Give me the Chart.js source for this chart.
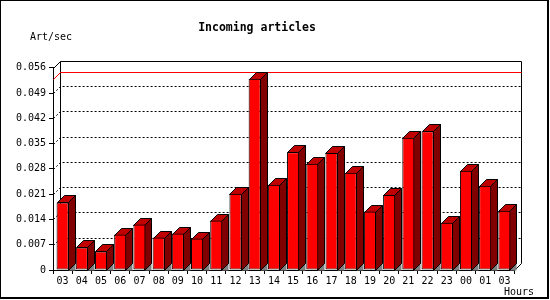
<!DOCTYPE html>
<html><head><meta charset="utf-8">
<style>html,body{margin:0;padding:0;background:#fff}canvas{display:block}</style>
<script src="https://cdn.jsdelivr.net/npm/chart.js@4"></script>
</head><body>
<canvas id="c" width="550" height="300"></canvas>
<script>
const hours = ['03','04','05','06','07','08','09','10','11','12','13','14','15','16','17','18','19','20','21','22','23','00','01','03'];
const artPerSec = [0.0187,0.00625,0.00515,0.0098,0.0126,0.0090,0.0101,0.0087,0.0137,0.0211,0.0530,0.0236,0.0326,0.0294,0.0324,0.0269,0.0162,0.0208,0.0366,0.0384,0.0131,0.0275,0.0233,0.0164];
const yTicks = [0,0.007,0.014,0.021,0.028,0.035,0.042,0.049,0.056];
const titleText = 'Incoming articles';
const yUnit = 'Art/sec';
const xUnit = 'Hours';

const DEPTH = 7;
const MONO = "'DejaVu Sans Mono', monospace";
Chart.defaults.font.family = MONO;
Chart.defaults.font.size = 10;
Chart.defaults.color = '#000';

const yMax = yTicks[yTicks.length - 1];

const threeD = {
  id: 'threeD',
  beforeDraw(chart) {
    const ctx = chart.ctx;
    ctx.save();
    ctx.fillStyle = '#fff';
    ctx.fillRect(0, 0, chart.width, chart.height);
    ctx.restore();
  },
  beforeDatasetsDraw(chart) {
    const {ctx, chartArea: a, scales: {y}} = chart;
    const d = DEPTH;
    const L = Math.round(a.left) + 0.5, R = Math.round(a.right) + 0.5;
    const T = Math.round(a.top) + 0.5, B = Math.round(a.bottom) + 0.5;
    ctx.save();
    ctx.lineWidth = 1;
    ctx.strokeStyle = '#000';
    // back wall frame
    ctx.beginPath();
    ctx.moveTo(L, T); ctx.lineTo(L + d, T - d); ctx.lineTo(R + d, T - d);
    ctx.lineTo(R + d, B - d); ctx.lineTo(R, B);
    ctx.moveTo(L + d, T - d); ctx.lineTo(L + d, B - d);
    ctx.stroke();
    // dotted grid on back wall
    ctx.setLineDash([2, 2]);
    yTicks.forEach(v => {
      if (v <= 0 || v >= yMax) return;
      const py = Math.round(y.getPixelForValue(v)) + 0.5;
      ctx.beginPath();
      ctx.moveTo(L, py); ctx.lineTo(L + d, py - d); ctx.lineTo(R + d, py - d);
      ctx.stroke();
    });
    ctx.setLineDash([]);
    // max line
    const maxV = Math.max(...artPerSec);
    const pm = Math.round(y.getPixelForValue(maxV)) + 0.5;
    ctx.strokeStyle = '#f00';
    ctx.beginPath();
    ctx.moveTo(L, pm); ctx.lineTo(L + d, pm - d); ctx.lineTo(R + d, pm - d);
    ctx.stroke();
    // 3D faces of bars
    ctx.strokeStyle = '#000';
    const meta = chart.getDatasetMeta(0);
    meta.data.forEach(bar => {
      const p = bar.getProps(['x', 'y', 'base', 'width'], true);
      const l = Math.round(p.x - p.width / 2) + 0.5;
      const r = Math.round(p.x + p.width / 2) - 0.5;
      const t = Math.round(p.y) + 0.5;
      const b = Math.round(p.base) + 0.5;
      ctx.fillStyle = '#808080';
      ctx.beginPath();
      ctx.moveTo(r, b); ctx.lineTo(r + d, b - d); ctx.lineTo(r + d, b); ctx.closePath();
      ctx.fill();
      ctx.fillStyle = '#800000';
      ctx.beginPath();
      ctx.moveTo(r, t); ctx.lineTo(r + d, t - d); ctx.lineTo(r + d, b - d); ctx.lineTo(r, b); ctx.closePath();
      ctx.fill(); ctx.stroke();
      ctx.fillStyle = '#c00000';
      ctx.beginPath();
      ctx.moveTo(l, t); ctx.lineTo(l + d, t - d); ctx.lineTo(r + d, t - d); ctx.lineTo(r, t); ctx.closePath();
      ctx.fill(); ctx.stroke();
    });
    ctx.restore();
  },
  afterDraw(chart) {
    const ctx = chart.ctx;
    ctx.save();
    ctx.fillStyle = '#000';
    ctx.font = '10px ' + MONO;
    ctx.textBaseline = 'middle';
    ctx.textAlign = 'left';
    ctx.fillText(yUnit, 30, 37);
    ctx.fillText(xUnit, 504, 292);
    // outer frame
    ctx.fillRect(0, 0, 549, 1);
    ctx.fillRect(0, 0, 1, 299);
    ctx.fillRect(547, 0, 2, 299);
    ctx.fillRect(0, 297, 549, 2);
    ctx.restore();
  }
};

new Chart(document.getElementById('c'), {
  type: 'bar',
  data: {
    labels: hours,
    datasets: [{
      data: artPerSec,
      backgroundColor: '#ff0000',
      borderColor: '#000',
      borderWidth: 1,
      borderSkipped: false,
      barPercentage: 0.63,
      categoryPercentage: 1
    }]
  },
  options: {
    responsive: false,
    animation: false,
    events: [],
    layout: { padding: { left: 0, right: 36, top: 0, bottom: 0 } },
    plugins: {
      legend: { display: false },
      tooltip: { enabled: false },
      title: {
        display: true,
        text: titleText,
        color: '#000',
        font: { family: MONO, size: 11.5, weight: 'bold' },
        padding: { top: 21, bottom: 33 }
      }
    },
    scales: {
      x: {
        grid: { display: true, drawOnChartArea: false, drawTicks: true, tickLength: 4, color: '#000', offset: true },
        border: { display: true, color: '#000', width: 1 },
        ticks: { padding: 1, maxRotation: 0, autoSkip: false, color: '#000', font: { family: MONO, size: 10 } },
        afterFit(scale) { scale.height = 30; }
      },
      y: {
        min: 0,
        max: yMax,
        afterBuildTicks(scale) { scale.ticks = yTicks.map(v => ({ value: v })); },
        grid: { display: true, drawOnChartArea: false, drawTicks: true, tickLength: 4, color: '#000' },
        border: { display: true, color: '#000', width: 1 },
        ticks: {
          padding: 3, color: '#000', font: { family: MONO, size: 10 },
          callback: v => v === 0 ? '0' : v.toFixed(3)
        },
        afterFit(scale) { scale.width = 53; }
      }
    }
  },
  plugins: [threeD]
});
</script>
</body></html>
